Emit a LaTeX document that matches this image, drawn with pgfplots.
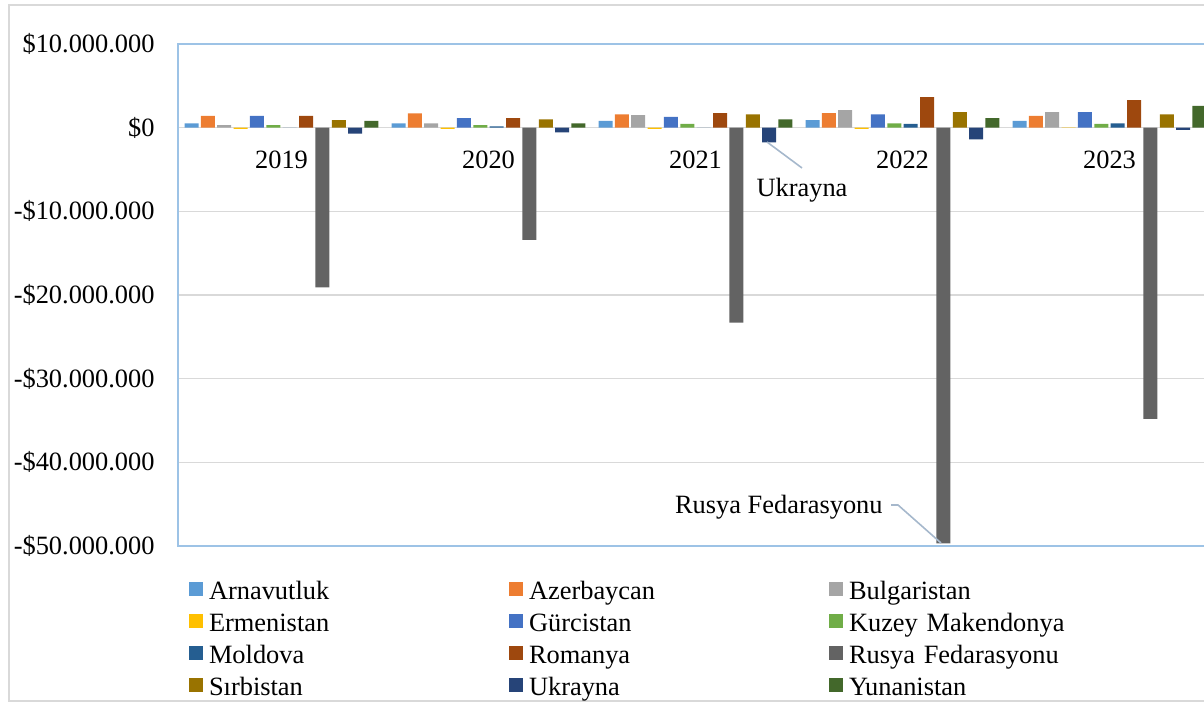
\documentclass[border=0pt]{standalone}
\usepackage{fontspec}
\setmainfont{Liberation Serif}
\usepackage{pgfplots}
\usepackage{pgfplotstable}
\pgfplotsset{compat=1.18}

\definecolor{cArn}{HTML}{5B9BD5}
\definecolor{cAze}{HTML}{ED7D31}
\definecolor{cBul}{HTML}{A5A5A5}
\definecolor{cErm}{HTML}{FFC000}
\definecolor{cGur}{HTML}{4472C4}
\definecolor{cKuz}{HTML}{70AD47}
\definecolor{cMol}{HTML}{255E91}
\definecolor{cRom}{HTML}{9E480E}
\definecolor{cRus}{HTML}{636363}
\definecolor{cSir}{HTML}{997300}
\definecolor{cUkr}{HTML}{264478}
\definecolor{cYun}{HTML}{43682B}
\definecolor{frameblue}{HTML}{9DC3E6}
\definecolor{gridgray}{HTML}{D9D9D9}
\definecolor{leadergray}{HTML}{A6B8CC}

\pgfplotstableread{
x arn aze bul erm gur kuz mol rom rus sir ukr yun
0 500000 1400000 300000 -150000 1400000 300000 0 1400000 -19100000 900000 -700000 800000
1 500000 1700000 500000 -150000 1150000 300000 150000 1150000 -13400000 1000000 -550000 500000
2 800000 1600000 1500000 -150000 1300000 450000 0 1750000 -23300000 1600000 -1750000 1000000
3 900000 1750000 2100000 -150000 1600000 500000 450000 3650000 -49700000 1850000 -1400000 1150000
4 800000 1400000 1850000 -20000 1850000 450000 500000 3300000 -34800000 1600000 -250000 2600000
}\data

\pgfplotsset{
  mylegend/.style={legend image code/.code={\fill[##1] (0pt,-1.5pt) rectangle (7pt,5.5pt);}},
}
\newcommand{\fs}{\fontsize{13.2}{15.8}\selectfont}

\begin{document}
\begin{tikzpicture}
\useasboundingbox (0,0) rectangle (602pt,351pt);
\clip (0,0) rectangle (602pt,351pt);
\draw[gridgray, line width=0.8pt] (4.5pt,0.5pt) rectangle (620pt,348.5pt);
\begin{axis}[
  at={(89pt,78pt)}, anchor=south west,
  scale only axis, width=517.5pt, height=251pt,
  ybar=1.18pt, bar width=7pt,
  xmin=-0.5, xmax=4.5,
  ymin=-50000000, ymax=10000000,
  xtick={0,1,2,3,4},
  xticklabels={2019,2020,2021,2022,2023},
  ytick={-50000000,-40000000,-30000000,-20000000,-10000000,0,10000000},
  yticklabels={-\$50.000.000,-\$40.000.000,-\$30.000.000,-\$20.000.000,-\$10.000.000,\$0,\$10.000.000},
  scaled y ticks=false,
  /pgf/number format/assume math mode=true,
  major tick length=0pt,
  ymajorgrids, grid style={gridgray, line width=0.8pt},
  axis line style={frameblue, line width=0.8pt},
  tick label style={font=\fs},
  yticklabel style={inner sep=0pt, xshift=-11.5pt},
  xticklabel style={anchor=north, inner sep=0pt, yshift=197.5pt},
  legend columns=3,
  legend style={
    at={(axis description cs:0.01063,-0.0697)}, anchor=north west,
    draw=none, fill=none, inner sep=0pt, outer sep=0pt,
    font=\fs,
    row sep=3.5pt,
    nodes={text width=150pt, align=left, inner xsep=0pt, inner ysep=0pt, text height=9.5pt, text depth=3pt},
    /tikz/every odd column/.style={column sep=3pt},
    /tikz/every even column/.style={column sep=0pt},
  },
  legend cell align=left,
]
\addplot[fill=cArn, draw=none, mylegend] table[x=x,y=arn]{\data};
\addlegendentry{Arnavutluk}
\addplot[fill=cAze, draw=none, mylegend] table[x=x,y=aze]{\data};
\addlegendentry{Azerbaycan}
\addplot[fill=cBul, draw=none, mylegend] table[x=x,y=bul]{\data};
\addlegendentry{Bulgaristan}
\addplot[fill=cErm, draw=none, mylegend] table[x=x,y=erm]{\data};
\addlegendentry{Ermenistan}
\addplot[fill=cGur, draw=none, mylegend] table[x=x,y=gur]{\data};
\addlegendentry{Gürcistan}
\addplot[fill=cKuz, draw=none, mylegend] table[x=x,y=kuz]{\data};
\addlegendentry{Kuzey Makendonya}
\addplot[fill=cMol, draw=none, mylegend] table[x=x,y=mol]{\data};
\addlegendentry{Moldova}
\addplot[fill=cRom, draw=none, mylegend] table[x=x,y=rom]{\data};
\addlegendentry{Romanya}
\addplot[fill=cRus, draw=none, mylegend] table[x=x,y=rus]{\data};
\addlegendentry{Rusya Fedarasyonu}
\addplot[fill=cSir, draw=none, mylegend] table[x=x,y=sir]{\data};
\addlegendentry{Sırbistan}
\addplot[fill=cUkr, draw=none, mylegend] table[x=x,y=ukr]{\data};
\addlegendentry{Ukrayna}
\addplot[fill=cYun, draw=none, mylegend] table[x=x,y=yun]{\data};
\addlegendentry{Yunanistan}
\end{axis}
% annotations
\draw[leadergray, line width=0.8pt] (383.5pt,280pt) -- (401pt,267pt);
\node[font=\fs, inner sep=0pt] at (401pt,256pt) {Ukrayna};
\draw[leadergray, line width=0.8pt] (445.5pt,98.5pt) -- (449pt,98.5pt) -- (470.5pt,79.5pt);
\node[font=\fs, inner sep=0pt, anchor=east] at (441.5pt,97.5pt) {Rusya Fedarasyonu};
\end{tikzpicture}
\end{document}
